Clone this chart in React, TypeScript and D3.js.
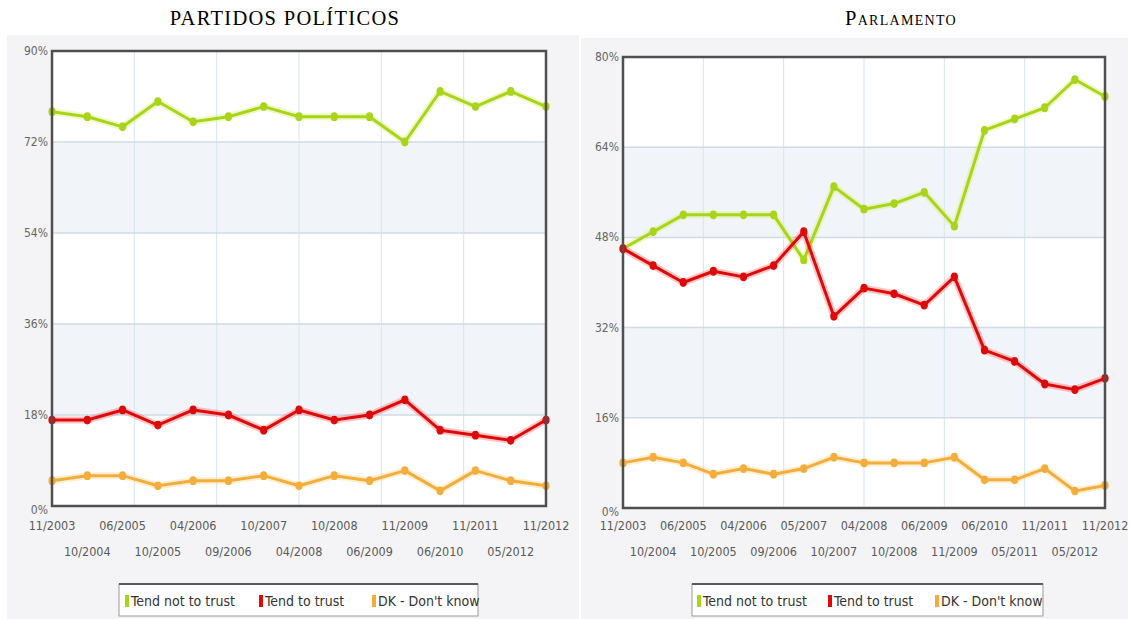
import React from 'react';
import * as d3 from 'd3';

// left chart: partidos politicos
const leftDates = ['11/2003', '10/2004', '06/2005', '10/2005', '04/2006', '09/2006', '10/2007', '04/2008', '10/2008', '06/2009', '11/2009', '06/2010', '11/2011', '05/2012', '11/2012'];
const leftNotTrust = [78, 77, 75, 80, 76, 77, 79, 77, 77, 77, 72, 82, 79, 82, 79];
const leftTrust = [17, 17, 19, 16, 19, 18, 15, 19, 17, 18, 21, 15, 14, 13, 17];
const leftDk = [5, 6, 6, 4, 5, 5, 6, 4, 6, 5, 7, 3, 7, 5, 4];
const leftTicks = [0, 18, 36, 54, 72, 90];

// right chart: parlamento
const rightDates = ['11/2003', '10/2004', '06/2005', '10/2005', '04/2006', '09/2006', '05/2007', '10/2007', '04/2008', '10/2008', '06/2009', '11/2009', '06/2010', '05/2011', '11/2011', '05/2012', '11/2012'];
const rightNotTrust = [46, 49, 52, 52, 52, 52, 44, 57, 53, 54, 56, 50, 67, 69, 71, 76, 73];
const rightTrust = [46, 43, 40, 42, 41, 43, 49, 34, 39, 38, 36, 41, 28, 26, 22, 21, 23];
const rightDk = [8, 9, 8, 6, 7, 6, 7, 9, 8, 8, 8, 9, 5, 5, 7, 3, 4];
const rightTicks = [0, 16, 32, 48, 64, 80];

const legendLabels = ['Tend not to trust', 'Tend to trust', "DK - Don't know"];
const colors = ['#a8d41c', '#dc0a0a', '#f4ad3d'];
const glowColors = ['#d4f060', '#ff5a5a', '#ffd080'];

const labelFont = '"DejaVu Sans Condensed", "Liberation Sans Narrow", sans-serif';

interface PanelProps {
  title: string;
  smallCaps?: boolean;
  titleX: number;
  dates: string[];
  series: number[][];
  ticks: number[];
  panel: { x0: number; x1: number; y0: number };
  box: { x0: number; x1: number; y0: number; y1: number };
  legend: { x: number; w: number; offsets: number[] };
}

function Panel({ title, smallCaps, titleX, dates, series, ticks, panel, box, legend }: PanelProps) {
  const x = d3.scalePoint<string>().domain(dates).range([box.x0, box.x1]).padding(0);
  const y = d3.scaleLinear().domain([0, ticks[ticks.length - 1]]).range([box.y1, box.y0]);
  const vgrid = d3.range(1, 6).map(i => box.x0 + ((box.x1 - box.x0) * i) / 6);

  const line = d3.line<number>()
    .x((_, i) => x(dates[i]) as number)
    .y(d => y(d));

  return (
    <g>
      <text x={titleX} y={25} textAnchor="middle" fontFamily='"Liberation Serif", "Times New Roman", serif'
        fontSize={20.5} letterSpacing={1.3} fill="#000" style={smallCaps ? { fontVariant: 'small-caps' } : undefined}>
        {title}
      </text>
      <rect x={panel.x0} y={panel.y0} width={panel.x1 - panel.x0} height={619 - panel.y0} fill="#f4f4f6" />
      <rect x={box.x0} y={box.y0} width={box.x1 - box.x0} height={box.y1 - box.y0} fill="#fff" />
      {/* alternating bands */}
      {[1, 3].map(i => (
        <rect key={i} x={box.x0} y={y(ticks[i + 1])} width={box.x1 - box.x0}
          height={y(ticks[i]) - y(ticks[i + 1])} fill="#f1f5f9" />
      ))}
      {vgrid.map((gx, i) => (
        <line key={i} x1={gx} x2={gx} y1={box.y0} y2={box.y1} stroke="#d5e5f0" strokeWidth={1} />
      ))}
      {ticks.slice(1, -1).map(t => (
        <line key={t} x1={box.x0} x2={box.x1} y1={y(t)} y2={y(t)} stroke="#cfdbe7" strokeWidth={1.5} />
      ))}
      {/* series */}
      {series.map((s, si) => (
        <g key={si}>
          <path d={line(s) as string} fill="none" stroke={glowColors[si]} strokeWidth={7} opacity={0.35} strokeLinejoin="round" />
          <path d={line(s) as string} fill="none" stroke={colors[si]} strokeWidth={3} strokeLinejoin="round" />
          {s.map((v, i) => (
            <ellipse key={i} cx={x(dates[i])} cy={y(v)} rx={3.6} ry={4.4} fill={colors[si]} />
          ))}
        </g>
      ))}
      <rect x={box.x0} y={box.y0} width={box.x1 - box.x0} height={box.y1 - box.y0} fill="none" stroke="#4f4f4f" strokeWidth={2.5} />
      {/* y axis labels */}
      {ticks.map(t => (
        <text key={t} x={box.x0 - 4} y={y(t) + (t === 0 ? 8 : 4)} textAnchor="end" fontFamily={labelFont}
          fontSize={12} fill="#666">{t}%</text>
      ))}
      {/* x axis labels, alternating rows */}
      {dates.map((d, i) => (
        <text key={d + i} x={x(d)} y={i % 2 === 0 ? 530 : 556} textAnchor="middle" fontFamily={labelFont}
          fontSize={12.5} fill="#5a5a5a">{d}</text>
      ))}
      {/* legend */}
      <rect x={legend.x} y={584} width={legend.w} height={32} fill="#fff" stroke="#9a9a9a" strokeWidth={1} />
      <line x1={legend.x} x2={legend.x + legend.w} y1={584} y2={584} stroke="#5a5a5a" strokeWidth={2} />
      {legendLabels.map((l, i) => (
        <g key={l}>
          <rect x={legend.x + legend.offsets[i]} y={595} width={4} height={12} fill={colors[i]} />
          <text x={legend.x + legend.offsets[i] + 6} y={606} fontFamily={labelFont} fontSize={14} fill="#333">{l}</text>
        </g>
      ))}
    </g>
  );
}

export default function App() {
  return (
    <svg width={1133} height={619} style={{ position: 'absolute', left: 0, top: 0, background: '#fff' }}>
      <Panel
        title="PARTIDOS POLÍTICOS"
        titleX={285}
        dates={leftDates}
        series={[leftNotTrust, leftTrust, leftDk]}
        ticks={leftTicks}
        panel={{ x0: 7, x1: 579, y0: 35 }}
        box={{ x0: 52, x1: 546, y0: 51, y1: 506 }}
        legend={{ x: 119, w: 359, offsets: [6, 140, 253] }}
      />
      <Panel
        title="Parlamento"
        smallCaps
        titleX={901}
        dates={rightDates}
        series={[rightNotTrust, rightTrust, rightDk]}
        ticks={rightTicks}
        panel={{ x0: 581, x1: 1128, y0: 38 }}
        box={{ x0: 623, x1: 1105, y0: 57, y1: 508 }}
        legend={{ x: 692, w: 351, offsets: [5, 136, 243] }}
      />
    </svg>
  );
}
